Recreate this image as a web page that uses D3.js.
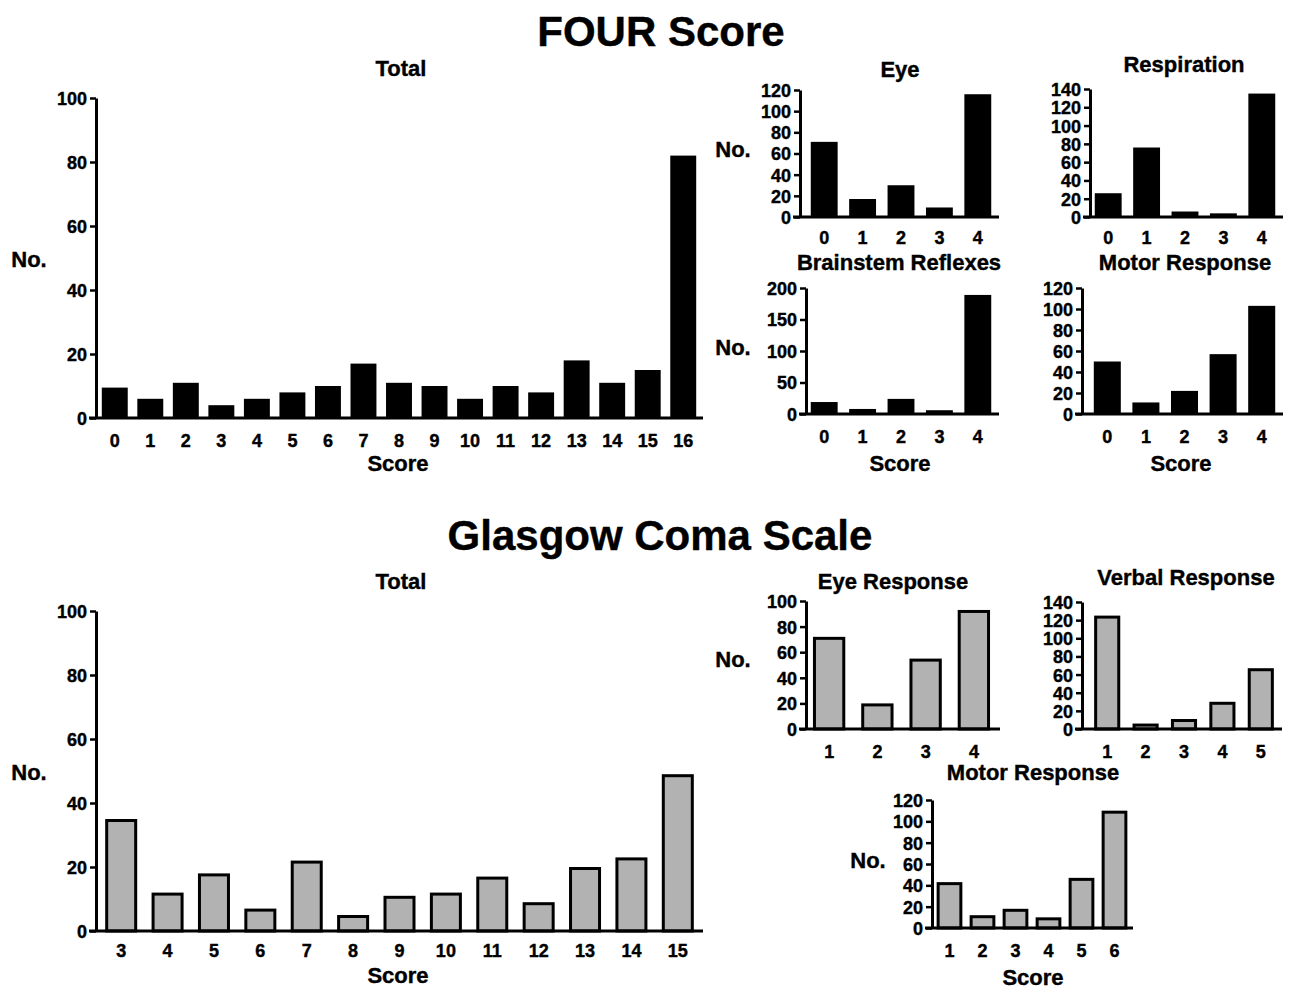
<!DOCTYPE html>
<html>
<head>
<meta charset="utf-8">
<script src="https://cdn.jsdelivr.net/npm/d3@7"></script>
<style>
  body { margin: 0; background: #fff; }
  text { font-family: "Liberation Sans", Arial, sans-serif; font-weight: bold; fill: #000; stroke: #000; stroke-width: 0.4px; }
</style>
</head>
<body>
<svg id="chart" width="1289" height="994"></svg>
<script>
// ---- data ----
var fourTotalScores = ["0","1","2","3","4","5","6","7","8","9","10","11","12","13","14","15","16"];
var fourTotalCounts = [9.5, 6, 11, 4, 6, 8, 10, 17, 11, 10, 6, 10, 8, 18, 11, 15, 82];

var fourSubScores = ["0","1","2","3","4"];
var fourEyeCounts = [71, 17, 30, 9, 116];
var fourRespCounts = [26, 76, 6, 4, 135];
var fourBrainstemCounts = [19, 8, 24, 6, 189];
var fourMotorCounts = [50, 11, 22, 57, 103];

var gcsTotalScores = ["3","4","5","6","7","8","9","10","11","12","13","14","15"];
var gcsTotalCounts = [35, 12, 18, 7, 22, 5, 11, 12, 17, 9, 20, 23, 49];

var gcsEyeScores = ["1","2","3","4"];
var gcsEyeCounts = [72, 20, 55, 93];
var gcsVerbalScores = ["1","2","3","4","5"];
var gcsVerbalCounts = [125, 6, 11, 30, 67];
var gcsMotorScores = ["1","2","3","4","5","6"];
var gcsMotorCounts = [43, 12, 18, 10, 47, 110];

var BLACK = "#000", GRAY = "#b2b2b2";

// ---- panel layout ----
var panels = [
  {cats: fourTotalScores, vals: fourTotalCounts, fill: BLACK, title: "Total",
   axisX: 96, range: [97, 701], top: 98, bottom: 418, max: 100, step: 20, pad: 0.27,
   titleX: 401, titleY: 76, tickY: 447, noX: 29, noY: 267, scoreX: 398, scoreY: 471},
  {cats: fourSubScores, vals: fourEyeCounts, fill: BLACK, title: "Eye",
   axisX: 800, range: [805, 997], top: 90, bottom: 217, max: 120, step: 20, pad: 0.3,
   titleX: 900, titleY: 77, tickY: 244, noX: 733, noY: 157},
  {cats: fourSubScores, vals: fourRespCounts, fill: BLACK, title: "Respiration",
   axisX: 1090, range: [1089, 1281], top: 89, bottom: 217, max: 140, step: 20, pad: 0.3,
   titleX: 1184, titleY: 72, tickY: 244},
  {cats: fourSubScores, vals: fourBrainstemCounts, fill: BLACK, title: "Brainstem Reflexes",
   axisX: 806, range: [805, 997], top: 288, bottom: 414, max: 200, step: 50, pad: 0.3,
   titleX: 899, titleY: 270, tickY: 443, noX: 733, noY: 355, scoreX: 900, scoreY: 471},
  {cats: fourSubScores, vals: fourMotorCounts, fill: BLACK, title: "Motor Response",
   axisX: 1082, range: [1088, 1281], top: 288, bottom: 414, max: 120, step: 20, pad: 0.3,
   titleX: 1185, titleY: 270, tickY: 443, scoreX: 1181, scoreY: 471},

  {cats: gcsTotalScores, vals: gcsTotalCounts, fill: GRAY, title: "Total",
   axisX: 96, range: [98, 701], top: 611, bottom: 931, max: 100, step: 20, pad: 0.31,
   titleX: 401, titleY: 589, tickY: 957, noX: 29, noY: 780, scoreX: 398, scoreY: 983},
  {cats: gcsEyeScores, vals: gcsEyeCounts, fill: GRAY, title: "Eye Response",
   axisX: 806, range: [805, 998], top: 601, bottom: 729, max: 100, step: 20, pad: 0.33,
   titleX: 893, titleY: 589, tickY: 758, noX: 733, noY: 667},
  {cats: gcsVerbalScores, vals: gcsVerbalCounts, fill: GRAY, title: "Verbal Response",
   axisX: 1082, range: [1088, 1280], top: 602, bottom: 729, max: 140, step: 20, pad: 0.32,
   titleX: 1186, titleY: 585, tickY: 758},
  {cats: gcsMotorScores, vals: gcsMotorCounts, fill: GRAY, title: "Motor Response",
   axisX: 932, range: [933, 1131], top: 800, bottom: 928, max: 120, step: 20, pad: 0.22,
   titleX: 1033, titleY: 780, tickY: 957, noX: 868, noY: 868, scoreX: 1033, scoreY: 985}
];

var svg = d3.select("#chart");

svg.append("text").attr("x", 661).attr("y", 46).attr("text-anchor", "middle")
  .attr("font-size", 42).text("FOUR Score");
svg.append("text").attr("x", 660).attr("y", 550).attr("text-anchor", "middle")
  .attr("font-size", 42).text("Glasgow Coma Scale");

function drawPanel(p) {
  var g = svg.append("g");
  var tickFont = 18;

  var x = d3.scaleBand()
    .domain(p.cats)
    .range(p.range)
    .paddingInner(p.pad)
    .paddingOuter(p.pad / 2);

  var y = d3.scaleLinear()
    .domain([0, p.max])
    .range([p.bottom, p.top]);

  // bars
  var sw = p.fill === GRAY ? 3 : 0;
  g.selectAll("rect.bar")
    .data(p.cats.map(function (c, i) { return {cat: c, val: p.vals[i]}; }))
    .enter().append("rect")
      .attr("class", "bar")
      .attr("x", function (d) { return x(d.cat) + sw / 2; })
      .attr("y", function (d) { return y(d.val) + sw / 2; })
      .attr("width", x.bandwidth() - sw)
      .attr("height", function (d) { return Math.max(0, p.bottom - y(d.val) - sw / 2); })
      .attr("fill", p.fill)
      .attr("stroke", sw ? "#000" : "none")
      .attr("stroke-width", sw);

  // y axis
  var yAxis = d3.axisLeft(y)
    .tickValues(d3.range(0, p.max + 1, p.step))
    .tickSize(6)
    .tickSizeOuter(0)
    .tickPadding(3);

  var ya = g.append("g")
    .attr("transform", "translate(" + p.axisX + ",0)")
    .call(yAxis);
  ya.select(".domain").attr("stroke-width", 3).attr("stroke", "#000");
  ya.selectAll(".tick line").attr("stroke-width", 2.5).attr("stroke", "#000");
  ya.selectAll(".tick text")
    .attr("font-size", tickFont)
    .attr("dy", "0.36em");
  ya.attr("font-family", null).attr("font-size", null);

  // x axis line
  g.append("line")
    .attr("x1", p.axisX - 7).attr("x2", p.range[1] + 2)
    .attr("y1", p.bottom).attr("y2", p.bottom)
    .attr("stroke", "#000").attr("stroke-width", 3);

  // x tick labels via band scale
  var xAxis = d3.axisBottom(x).tickSize(0);
  var xa = g.append("g")
    .attr("transform", "translate(0," + p.bottom + ")")
    .call(xAxis);
  xa.select(".domain").remove();
  xa.selectAll(".tick text")
    .attr("y", p.tickY - p.bottom)
    .attr("dy", 0)
    .attr("font-size", tickFont);
  xa.attr("font-family", null).attr("font-size", null);

  g.append("text")
    .attr("x", p.titleX).attr("y", p.titleY)
    .attr("text-anchor", "middle").attr("font-size", 22)
    .text(p.title);

  if (p.noX !== undefined) {
    g.append("text")
      .attr("x", p.noX).attr("y", p.noY)
      .attr("text-anchor", "middle").attr("font-size", 22)
      .text("No.");
  }
  if (p.scoreX !== undefined) {
    g.append("text")
      .attr("x", p.scoreX).attr("y", p.scoreY)
      .attr("text-anchor", "middle").attr("font-size", 22)
      .text("Score");
  }
}

panels.forEach(drawPanel);
</script>
</body>
</html>
